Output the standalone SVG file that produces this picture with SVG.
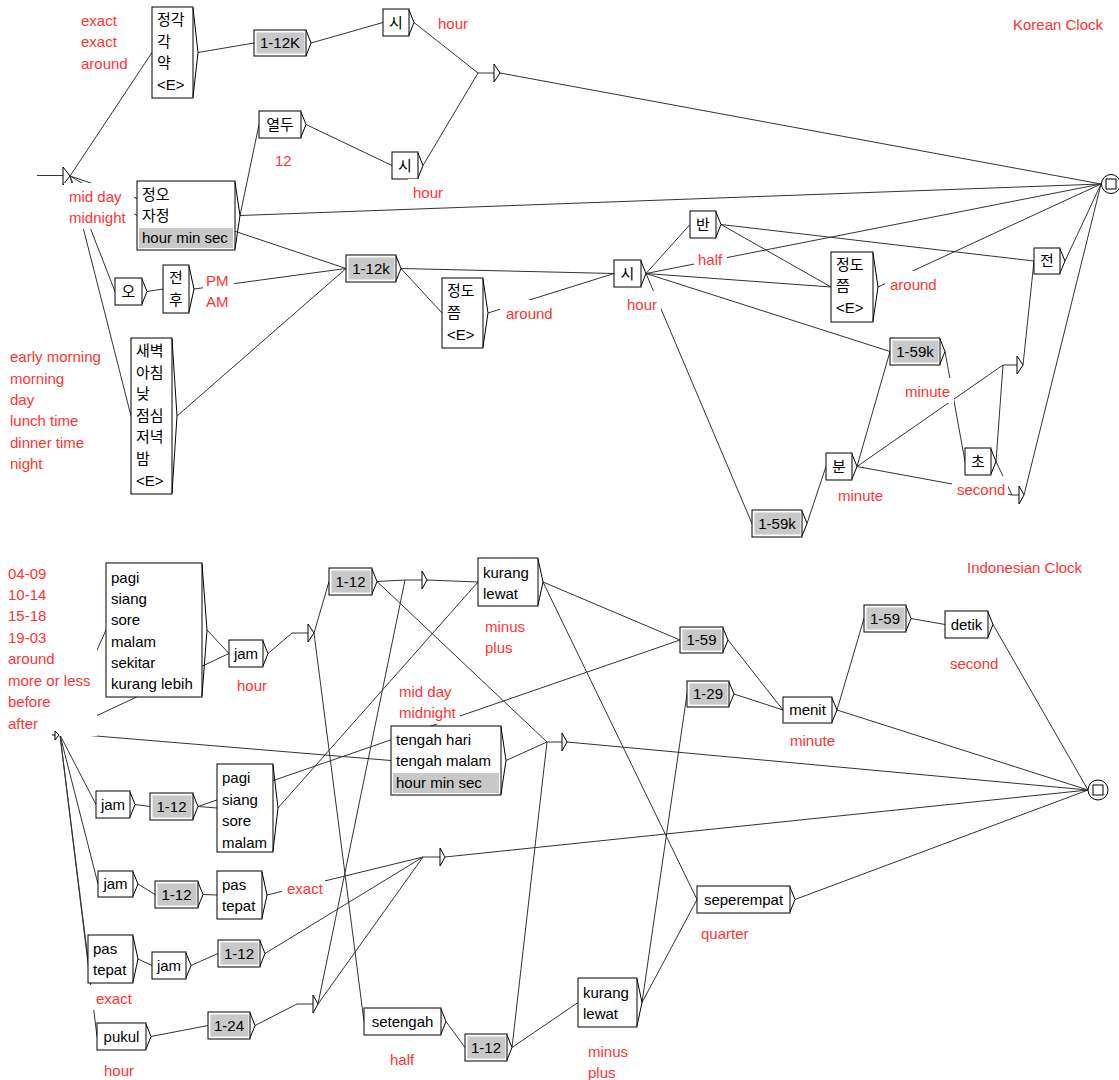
<svg xmlns="http://www.w3.org/2000/svg" width="1119" height="1080" viewBox="0 0 1119 1080">
<style>
.bg{fill:#fff}
.b{fill:#fff;stroke:#000;stroke-width:1}
.g{fill:#c8c8c8;stroke:none}
.br{fill:none;stroke:#000;stroke-width:1}
.e{fill:none;stroke:#333;stroke-width:1}
.t{font-family:"Liberation Sans","Noto Sans CJK KR",sans-serif;font-size:15px;fill:#000}
.m{text-anchor:middle}
.c{font-family:"Liberation Sans","Noto Sans CJK KR",sans-serif;font-size:15px;fill:#ff3333}
.cb{fill:#fff;stroke:none}
</style>
<rect width="1119" height="1080" class="bg"/>
<g id="connectors" class="e">
<!-- Korean -->
<line x1="37" y1="175.5" x2="63" y2="175.5"/>
<line x1="70" y1="176" x2="152" y2="52.5"/>
<line x1="70" y1="176" x2="137" y2="215.5"/>
<line x1="70" y1="176" x2="346" y2="268.5"/>
<line x1="70" y1="176" x2="115" y2="291.5"/>
<line x1="70" y1="176" x2="131" y2="416"/>
<line x1="198" y1="52.5" x2="254" y2="43"/>
<line x1="311" y1="43" x2="383" y2="22.5"/>
<line x1="414" y1="22.5" x2="478" y2="73"/>
<line x1="423" y1="165.5" x2="478" y2="73"/>
<line x1="478" y1="73" x2="494" y2="73"/>
<line x1="500" y1="73" x2="1101" y2="184"/>
<line x1="306" y1="124.5" x2="392" y2="165.5"/>
<line x1="240" y1="215.5" x2="259" y2="124.5"/>
<line x1="240" y1="215.5" x2="1101" y2="184"/>
<line x1="147" y1="291.5" x2="163" y2="289"/>
<line x1="194" y1="289" x2="346" y2="268.5"/>
<line x1="177" y1="416" x2="346" y2="268.5"/>
<line x1="401" y1="268.5" x2="442" y2="313"/>
<line x1="401" y1="268.5" x2="614" y2="273.5"/>
<line x1="488" y1="313" x2="614" y2="273.5"/>
<line x1="646" y1="273.5" x2="690" y2="224.5"/>
<line x1="646" y1="273.5" x2="831" y2="287"/>
<line x1="646" y1="273.5" x2="1101" y2="184"/>
<line x1="646" y1="273.5" x2="890" y2="351.5"/>
<line x1="646" y1="273.5" x2="752" y2="523.5"/>
<line x1="721" y1="224.5" x2="1034" y2="261"/>
<line x1="721" y1="224.5" x2="831" y2="287"/>
<line x1="878" y1="287" x2="1101" y2="184"/>
<line x1="1065" y1="261" x2="1101" y2="184"/>
<line x1="945" y1="351.5" x2="965" y2="461.5"/>
<line x1="857" y1="466.5" x2="890" y2="351.5"/>
<line x1="857" y1="466.5" x2="1003" y2="365"/>
<line x1="857" y1="466.5" x2="1012" y2="495"/>
<line x1="996" y1="461.5" x2="1003" y2="365"/>
<line x1="996" y1="461.5" x2="1012" y2="495"/>
<line x1="1003" y1="365" x2="1017" y2="365"/>
<line x1="1012" y1="495" x2="1019" y2="495"/>
<line x1="1023" y1="365" x2="1034" y2="261"/>
<line x1="1024" y1="495" x2="1101" y2="184"/>
<line x1="807" y1="523.5" x2="826" y2="466.5"/>
<!-- Indonesian -->
<line x1="60" y1="733" x2="106" y2="630"/>
<line x1="60" y1="733" x2="229" y2="653.5"/>
<line x1="60" y1="733" x2="391" y2="760.5"/>
<line x1="60" y1="735" x2="96" y2="804.5"/>
<line x1="60" y1="735" x2="98" y2="884"/>
<line x1="60" y1="735" x2="88" y2="959"/>
<line x1="60" y1="735" x2="97" y2="1036.5"/>
<line x1="207" y1="630" x2="229" y2="653.5"/>
<line x1="268" y1="653.5" x2="292" y2="633"/>
<line x1="292" y1="633" x2="308" y2="633"/>
<line x1="314" y1="633" x2="329" y2="581.5"/>
<line x1="314" y1="633" x2="364" y2="1021.5"/>
<line x1="377" y1="581.5" x2="405" y2="580"/>
<line x1="377" y1="581.5" x2="547" y2="742"/>
<line x1="405" y1="580" x2="422" y2="580"/>
<line x1="427" y1="580" x2="478" y2="582"/>
<line x1="543" y1="582" x2="680" y2="640"/>
<line x1="543" y1="582" x2="697" y2="899.5"/>
<line x1="728" y1="640" x2="783" y2="710"/>
<line x1="734" y1="694" x2="783" y2="710"/>
<line x1="837" y1="710" x2="864" y2="618.5"/>
<line x1="837" y1="710" x2="1088" y2="790"/>
<line x1="911" y1="618.5" x2="945" y2="624.5"/>
<line x1="993" y1="624.5" x2="1088" y2="790"/>
<line x1="795" y1="899.5" x2="1088" y2="790"/>
<line x1="547" y1="742" x2="562" y2="742"/>
<line x1="567" y1="742" x2="1088" y2="790"/>
<line x1="423" y1="857" x2="440" y2="857"/>
<line x1="445" y1="857" x2="1088" y2="790"/>
<line x1="135" y1="804.5" x2="150" y2="806.5"/>
<line x1="198" y1="806.5" x2="217" y2="808"/>
<line x1="198" y1="806.5" x2="680" y2="640"/>
<line x1="278" y1="808" x2="478" y2="582"/>
<line x1="506" y1="760.5" x2="547" y2="742"/>
<line x1="138" y1="884" x2="155" y2="894.5"/>
<line x1="203" y1="894.5" x2="217" y2="895"/>
<line x1="267" y1="895" x2="423" y2="857"/>
<line x1="138" y1="959" x2="152" y2="965.5"/>
<line x1="191" y1="965.5" x2="218" y2="953.5"/>
<line x1="265" y1="953.5" x2="423" y2="857"/>
<line x1="151" y1="1036.5" x2="208" y2="1025.5"/>
<line x1="255" y1="1025.5" x2="297" y2="1004"/>
<line x1="297" y1="1004" x2="313" y2="1004"/>
<line x1="318" y1="1004" x2="405" y2="580"/>
<line x1="318" y1="1004" x2="423" y2="857"/>
<line x1="446" y1="1021.5" x2="465" y2="1047.5"/>
<line x1="512" y1="1047.5" x2="578" y2="1002.5"/>
<line x1="512" y1="1047.5" x2="547" y2="742"/>
<line x1="642" y1="1002.5" x2="687" y2="694"/>
<line x1="642" y1="1002.5" x2="697" y2="899.5"/>
</g>

<!-- ============ Korean nodes ============ -->
<g id="k-start"><polygon class="b" points="63,167 63,185 70,176"/></g>
<g id="k-final"><circle class="b" cx="1111" cy="184" r="9.5"/><rect class="b" x="1106" y="179" width="10" height="10"/></g>
<g id="k-j1"><polygon class="b" points="494,64 494,82 500,73"/></g>
<g id="k-j2"><polygon class="b" points="1017,356 1017,374 1023,365"/></g>
<g id="k-j3"><polygon class="b" points="1019,486 1019,504 1024,495"/></g>

<g id="k-b1"><rect class="b" x="152" y="7" width="41" height="91"/><polyline class="br" points="193,8 198,52.5 193,97"/>
<text class="t" x="157" y="25">정각</text><text class="t" x="157" y="47">각</text><text class="t" x="157" y="68">약</text><text class="t" x="157" y="90">&lt;E&gt;</text></g>
<g id="k-b2"><rect class="b" x="254" y="30" width="52" height="26"/><rect class="g" x="256.5" y="32.5" width="48" height="21"/><polyline class="br" points="306,30 311,43 306,56"/><text class="t m" x="280" y="48">1-12K</text></g>
<g id="k-b3"><rect class="b" x="383" y="9" width="26" height="27"/><polyline class="br" points="409,10 414,22.5 409,35"/><text class="t m" x="396" y="28">시</text></g>
<g id="k-b4"><rect class="b" x="259" y="111" width="42" height="27"/><polyline class="br" points="301,112 306,124.5 301,137"/><text class="t m" x="280" y="130">열두</text></g>
<g id="k-b5"><rect class="b" x="392" y="152" width="26" height="27"/><polyline class="br" points="418,153 423,165.5 418,178"/><text class="t m" x="405" y="171">시</text></g>
<g id="k-b6"><rect class="b" x="137" y="181" width="98" height="69"/><rect class="g" x="139" y="228" width="94" height="20"/><polyline class="br" points="235,182 240,215.5 235,249"/>
<text class="t" x="142" y="200">정오</text><text class="t" x="142" y="221">자정</text><text class="t" x="142" y="243">hour min sec</text></g>
<g id="k-b7"><rect class="b" x="115" y="278" width="27" height="27"/><polyline class="br" points="142,279 147,291.5 142,304"/><text class="t m" x="128.5" y="297">오</text></g>
<g id="k-b8"><rect class="b" x="163" y="265" width="26" height="48"/><polyline class="br" points="189,266 194,289 189,312"/><text class="t m" x="176" y="283">전</text><text class="t m" x="176" y="305">후</text></g>
<g id="k-b9"><rect class="b" x="131" y="338" width="41" height="156"/><polyline class="br" points="172,339 177,416 172,493"/>
<text class="t" x="136" y="356">새벽</text><text class="t" x="136" y="378">아침</text><text class="t" x="136" y="399">낮</text><text class="t" x="136" y="421">점심</text><text class="t" x="136" y="442">저녁</text><text class="t" x="136" y="464">밤</text><text class="t" x="136" y="486">&lt;E&gt;</text></g>
<g id="k-b10"><rect class="b" x="346" y="255" width="50" height="27"/><rect class="g" x="348.5" y="257.5" width="46" height="22"/><polyline class="br" points="396,256 401,268.5 396,281"/><text class="t m" x="371" y="274">1-12k</text></g>
<g id="k-b11"><rect class="b" x="442" y="278" width="41" height="70"/><polyline class="br" points="483,279 488,313 483,347"/>
<text class="t" x="447" y="296">정도</text><text class="t" x="447" y="318">쯤</text><text class="t" x="447" y="340">&lt;E&gt;</text></g>
<g id="k-b12"><rect class="b" x="614" y="260" width="27" height="27"/><polyline class="br" points="641,261 646,273.5 641,286"/><text class="t m" x="627.5" y="279">시</text></g>
<g id="k-b13"><rect class="b" x="690" y="211" width="26" height="27"/><polyline class="br" points="716,212 721,224.5 716,237"/><text class="t m" x="703" y="230">반</text></g>
<g id="k-b14"><rect class="b" x="831" y="252" width="42" height="70"/><polyline class="br" points="873,253 878,287 873,321"/>
<text class="t" x="836" y="270">정도</text><text class="t" x="836" y="291">쯤</text><text class="t" x="836" y="313">&lt;E&gt;</text></g>
<g id="k-b15"><rect class="b" x="1034" y="248" width="26" height="26"/><polyline class="br" points="1060,249 1065,261 1060,273"/><text class="t m" x="1047" y="266">전</text></g>
<g id="k-b16"><rect class="b" x="890" y="338" width="50" height="27"/><rect class="g" x="892.5" y="340.5" width="46" height="22"/><polyline class="br" points="940,339 945,351.5 940,364"/><text class="t m" x="915" y="357">1-59k</text></g>
<g id="k-b17"><rect class="b" x="826" y="453" width="26" height="27"/><polyline class="br" points="852,454 857,466.5 852,479"/><text class="t m" x="839" y="472">분</text></g>
<g id="k-b18"><rect class="b" x="965" y="448" width="26" height="27"/><polyline class="br" points="991,449 996,461.5 991,474"/><text class="t m" x="978" y="467">초</text></g>
<g id="k-b19"><rect class="b" x="752" y="510" width="50" height="27"/><rect class="g" x="754.5" y="512.5" width="46" height="22"/><polyline class="br" points="802,511 807,523.5 802,536"/><text class="t m" x="777" y="529">1-59k</text></g>

<g id="k-c1"><rect class="cb" x="76" y="7" width="58" height="68"/><text class="c" x="81" y="26">exact</text><text class="c" x="81" y="47">exact</text><text class="c" x="81" y="69">around</text></g>
<g id="k-c2"><rect class="cb" x="433" y="10" width="40" height="25"/><text class="c" x="438" y="29">hour</text></g>
<g id="k-c3"><rect class="cb" x="270" y="147" width="27" height="25"/><text class="c" x="275" y="166">12</text></g>
<g id="k-c4"><rect class="cb" x="408" y="179" width="40" height="25"/><text class="c" x="413" y="198">hour</text></g>
<g id="k-c5"><rect class="cb" x="64" y="183" width="70" height="46"/><text class="c" x="69" y="202">mid day</text><text class="c" x="69" y="223">midnight</text></g>
<g id="k-c6"><rect class="cb" x="203" y="267" width="31" height="46"/><text class="c" x="206" y="286">PM</text><text class="c" x="206" y="307">AM</text></g>
<g id="k-c7"><text class="c" x="10" y="362">early morning</text><text class="c" x="10" y="384">morning</text><text class="c" x="10" y="405">day</text><text class="c" x="10" y="426">lunch time</text><text class="c" x="10" y="448">dinner time</text><text class="c" x="10" y="469">night</text></g>
<g id="k-c8"><rect class="cb" x="500" y="300" width="58" height="25"/><text class="c" x="506" y="319">around</text></g>
<g id="k-c9"><rect class="cb" x="622" y="291" width="39" height="25"/><text class="c" x="627" y="310">hour</text></g>
<g id="k-c10"><rect class="cb" x="694" y="246" width="33" height="25"/><text class="c" x="698" y="265">half</text></g>
<g id="k-c11"><rect class="cb" x="885" y="271" width="57" height="25"/><text class="c" x="890" y="290">around</text></g>
<g id="k-c12"><rect class="cb" x="900" y="378" width="54" height="25"/><text class="c" x="905" y="397">minute</text></g>
<g id="k-c13"><rect class="cb" x="833" y="482" width="54" height="25"/><text class="c" x="838" y="501">minute</text></g>
<g id="k-c14"><rect class="cb" x="952" y="476" width="56" height="25"/><text class="c" x="957" y="495">second</text></g>
<g id="k-title"><text class="c" x="1013" y="30">Korean Clock</text></g>

<!-- ============ Indonesian nodes ============ -->
<g id="i-c16"><rect class="cb" x="3" y="560" width="94" height="176"/>
<text class="c" x="8" y="579">04-09</text><text class="c" x="8" y="600">10-14</text><text class="c" x="8" y="621">15-18</text><text class="c" x="8" y="643">19-03</text><text class="c" x="8" y="664">around</text><text class="c" x="8" y="686">more or less</text><text class="c" x="8" y="707">before</text><text class="c" x="8" y="729">after</text></g>
<g id="i-start"><line class="br" x1="52" y1="735" x2="55" y2="735"/><polygon class="b" points="55,731 55,740 59,735"/></g>
<g id="i-final"><circle class="b" cx="1098" cy="790" r="10"/><rect class="b" x="1093" y="785" width="10" height="10"/></g>
<g id="i-j4"><polygon class="b" points="308,624 308,642 314,633"/></g>
<g id="i-j5"><polygon class="b" points="313,995 313,1013 318,1004"/></g>
<g id="i-j6"><polygon class="b" points="422,571 422,589 427,580"/></g>
<g id="i-j7"><polygon class="b" points="440,848 440,866 445,857"/></g>
<g id="i-j8"><polygon class="b" points="562,733 562,751 567,742"/></g>

<g id="i-pagi1"><rect class="b" x="106" y="563" width="96" height="134"/><polyline class="br" points="202,564 207,630 202,696"/>
<text class="t" x="111" y="583">pagi</text><text class="t" x="111" y="604">siang</text><text class="t" x="111" y="625">sore</text><text class="t" x="111" y="647">malam</text><text class="t" x="111" y="668">sekitar</text><text class="t" x="111" y="689">kurang lebih</text></g>
<g id="i-jam1"><rect class="b" x="229" y="640" width="34" height="27"/><polyline class="br" points="263,641 268,653.5 263,666"/><text class="t m" x="246" y="659">jam</text></g>
<g id="i-t1"><rect class="b" x="329" y="568" width="43" height="27"/><rect class="g" x="331.5" y="570.5" width="39" height="22"/><polyline class="br" points="372,569 377,581.5 372,594"/><text class="t m" x="350.5" y="587">1-12</text></g>
<g id="i-k1"><rect class="b" x="478" y="558" width="60" height="48"/><polyline class="br" points="538,559 543,582 538,605"/><text class="t" x="483" y="578">kurang</text><text class="t" x="483" y="599">lewat</text></g>
<g id="i-n1"><rect class="b" x="680" y="627" width="43" height="26"/><rect class="g" x="682.5" y="629.5" width="39" height="21"/><polyline class="br" points="723,628 728,640 723,652"/><text class="t m" x="701.5" y="645">1-59</text></g>
<g id="i-n2"><rect class="b" x="687" y="681" width="42" height="26"/><rect class="g" x="689.5" y="683.5" width="38" height="21"/><polyline class="br" points="729,682 734,694 729,706"/><text class="t m" x="708" y="699">1-29</text></g>
<g id="i-menit"><rect class="b" x="783" y="697" width="49" height="26"/><polyline class="br" points="832,698 837,710 832,722"/><text class="t m" x="807.5" y="715">menit</text></g>
<g id="i-n3"><rect class="b" x="864" y="605" width="42" height="27"/><rect class="g" x="866.5" y="607.5" width="38" height="22"/><polyline class="br" points="906,606 911,618.5 906,631"/><text class="t m" x="885" y="624">1-59</text></g>
<g id="i-detik"><rect class="b" x="945" y="611" width="43" height="27"/><polyline class="br" points="988,612 993,624.5 988,637"/><text class="t m" x="966.5" y="630">detik</text></g>
<g id="i-tengah"><rect class="b" x="391" y="726" width="110" height="69"/><rect class="g" x="393" y="773" width="106" height="20"/><polyline class="br" points="501,727 506,760.5 501,794"/>
<text class="t" x="396" y="745">tengah hari</text><text class="t" x="396" y="766">tengah malam</text><text class="t" x="396" y="788">hour min sec</text></g>
<g id="i-jam2"><rect class="b" x="96" y="791" width="34" height="27"/><polyline class="br" points="130,792 135,804.5 130,817"/><text class="t m" x="113" y="810">jam</text></g>
<g id="i-g2"><rect class="b" x="150" y="793" width="43" height="27"/><rect class="g" x="152.5" y="795.5" width="39" height="22"/><polyline class="br" points="193,794 198,806.5 193,819"/><text class="t m" x="171.5" y="812">1-12</text></g>
<g id="i-pagi2"><rect class="b" x="217" y="764" width="56" height="88"/><polyline class="br" points="273,765 278,808 273,851"/>
<text class="t" x="222" y="783">pagi</text><text class="t" x="222" y="805">siang</text><text class="t" x="222" y="826">sore</text><text class="t" x="222" y="848">malam</text></g>
<g id="i-jam3"><rect class="b" x="98" y="871" width="35" height="26"/><polyline class="br" points="133,872 138,884 133,896"/><text class="t m" x="115.5" y="889">jam</text></g>
<g id="i-g3"><rect class="b" x="155" y="881" width="43" height="27"/><rect class="g" x="157.5" y="883.5" width="39" height="22"/><polyline class="br" points="198,882 203,894.5 198,907"/><text class="t m" x="176.5" y="900">1-12</text></g>
<g id="i-pt2"><rect class="b" x="217" y="871" width="45" height="48"/><polyline class="br" points="262,872 267,895 262,918"/><text class="t" x="222" y="890">pas</text><text class="t" x="222" y="911">tepat</text></g>
<g id="i-pt3"><rect class="b" x="88" y="935" width="45" height="48"/><polyline class="br" points="133,936 138,959 133,982"/><text class="t" x="93" y="954">pas</text><text class="t" x="93" y="975">tepat</text></g>
<g id="i-jam4"><rect class="b" x="152" y="952" width="34" height="27"/><polyline class="br" points="186,953 191,965.5 186,978"/><text class="t m" x="169" y="971">jam</text></g>
<g id="i-g4"><rect class="b" x="218" y="940" width="42" height="27"/><rect class="g" x="220.5" y="942.5" width="38" height="22"/><polyline class="br" points="260,941 265,953.5 260,966"/><text class="t m" x="239" y="959">1-12</text></g>
<g id="i-pukul"><rect class="b" x="97" y="1023" width="49" height="27"/><polyline class="br" points="146,1024 151,1036.5 146,1049"/><text class="t m" x="121.5" y="1042">pukul</text></g>
<g id="i-g5"><rect class="b" x="208" y="1012" width="42" height="27"/><rect class="g" x="210.5" y="1014.5" width="38" height="22"/><polyline class="br" points="250,1013 255,1025.5 250,1038"/><text class="t m" x="229" y="1031">1-24</text></g>
<g id="i-setengah"><rect class="b" x="364" y="1008" width="77" height="27"/><polyline class="br" points="441,1009 446,1021.5 441,1034"/><text class="t m" x="402.5" y="1027">setengah</text></g>
<g id="i-g6"><rect class="b" x="465" y="1034" width="42" height="27"/><rect class="g" x="467.5" y="1036.5" width="38" height="22"/><polyline class="br" points="507,1035 512,1047.5 507,1060"/><text class="t m" x="486" y="1053">1-12</text></g>
<g id="i-k2"><rect class="b" x="578" y="978" width="59" height="49"/><polyline class="br" points="637,979 642,1002.5 637,1026"/><text class="t" x="583" y="998">kurang</text><text class="t" x="583" y="1019">lewat</text></g>
<g id="i-seperempat"><rect class="b" x="697" y="886" width="93" height="27"/><polyline class="br" points="790,887 795,899.5 790,912"/><text class="t m" x="743.5" y="905">seperempat</text></g>

<g id="i-c17"><rect class="cb" x="232" y="672" width="40" height="25"/><text class="c" x="237" y="691">hour</text></g>
<g id="i-c18"><rect class="cb" x="480" y="613" width="52" height="46"/><text class="c" x="485" y="632">minus</text><text class="c" x="485" y="653">plus</text></g>
<g id="i-c19"><rect class="cb" x="394" y="678" width="66" height="46"/><text class="c" x="399" y="697">mid day</text><text class="c" x="399" y="718">midnight</text></g>
<g id="i-c20"><rect class="cb" x="583" y="1038" width="52" height="46"/><text class="c" x="588" y="1057">minus</text><text class="c" x="588" y="1078">plus</text></g>
<g id="i-c21"><rect class="cb" x="385" y="1046" width="35" height="25"/><text class="c" x="390" y="1065">half</text></g>
<g id="i-c22"><rect class="cb" x="282" y="875" width="43" height="25"/><text class="c" x="287" y="894">exact</text></g>
<g id="i-c23"><rect class="cb" x="89" y="985" width="46" height="25"/><text class="c" x="96" y="1004">exact</text></g>
<g id="i-c24"><rect class="cb" x="99" y="1057" width="40" height="25"/><text class="c" x="104" y="1076">hour</text></g>
<g id="i-c25"><rect class="cb" x="696" y="920" width="60" height="25"/><text class="c" x="701" y="939">quarter</text></g>
<g id="i-c26"><rect class="cb" x="785" y="727" width="54" height="25"/><text class="c" x="790" y="746">minute</text></g>
<g id="i-c27"><rect class="cb" x="945" y="650" width="56" height="25"/><text class="c" x="950" y="669">second</text></g>
<g id="i-title"><text class="c" x="967" y="573">Indonesian Clock</text></g>
</svg>
